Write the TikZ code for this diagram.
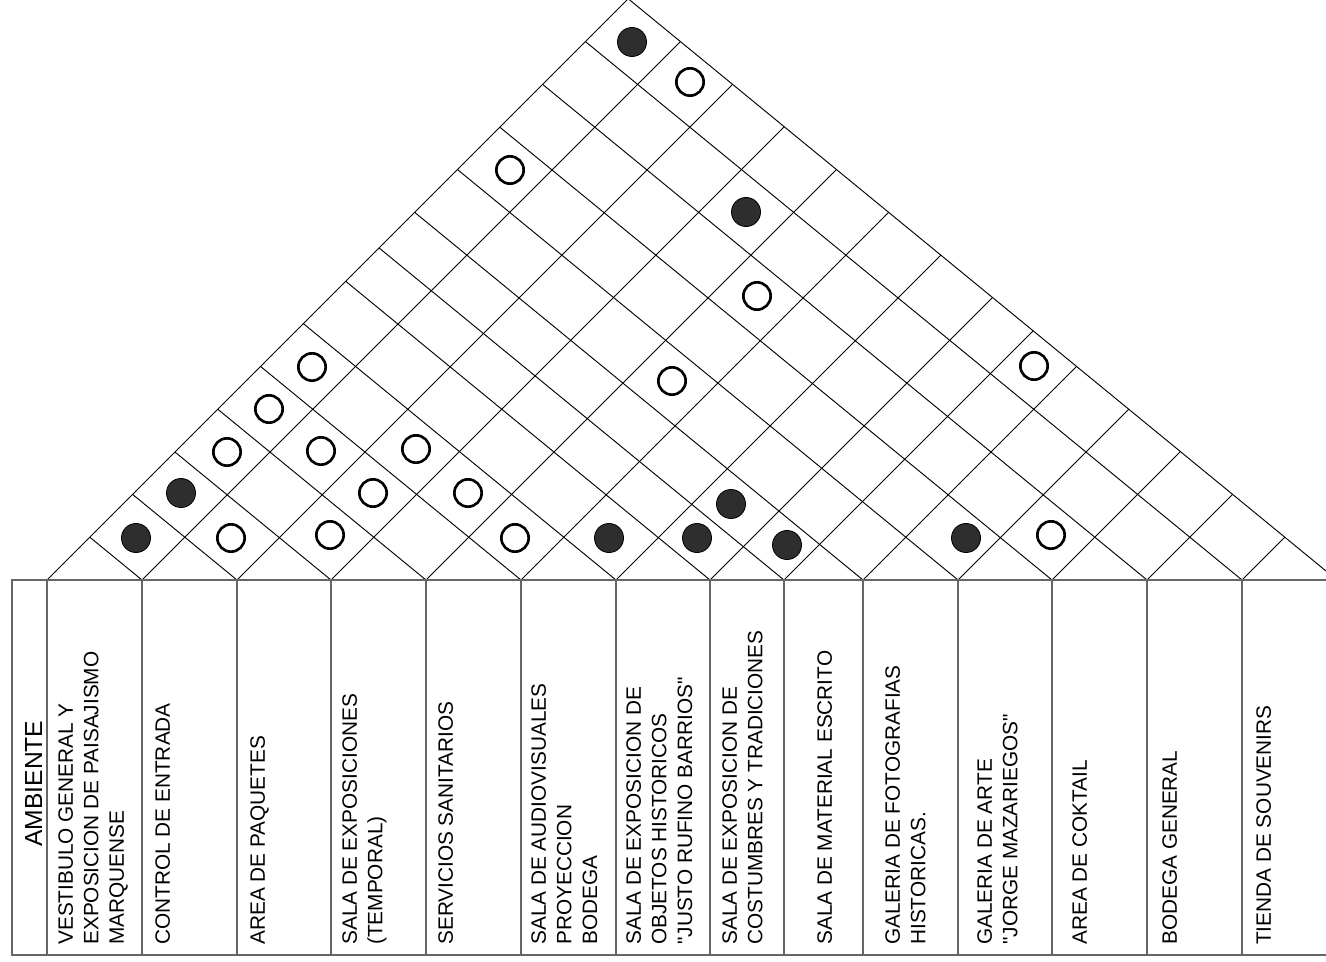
\documentclass[tikz,border=0pt]{standalone}
\usepackage{fontspec}
\setmainfont{Liberation Sans}
% font loaded without the TeX mapping, so that " stays a straight quote
\font\qfont="Liberation Sans" at 15.6pt
\newcommand{\sq}{{\qfont"}}
\begin{document}
\begin{tikzpicture}[x=0.75pt,y=-0.75pt,
  gridline/.style={draw=black,line width=0.7pt},
  tableline/.style={draw=black!60,line width=1pt},
  opendot/.style={circle,draw=black,line width=2pt,fill=white,minimum size=20.5pt,inner sep=0pt},
  filldot/.style={circle,draw=black,line width=0.6pt,fill=black!82,minimum size=21.8pt,inner sep=0pt},
  colabel/.style={rotate=90,anchor=north west,align=left,inner sep=0pt,
    font=\fontsize{15.6}{19.2}\selectfont},
  headlabel/.style={rotate=90,anchor=north west,inner sep=0pt,
    font=\fontsize{18.5}{22}\selectfont}]
\useasboundingbox (0,0) rectangle (1326,962);
\clip (0,0) rectangle (1326,962);
% bottom vertices of the matrix
\foreach \a [count=\i from 0] in {47,142,237,331,426,521,616,710,784,863,958,1052,1147,1242,1337}
  \coordinate (b\i) at (\a,580);
% up-right lines (slope 1) ending on the right edge
\foreach \a [count=\i from 0] in {47,142,237,331,426,521,616,710,784,863,958,1052,1147,1242}{
  \pgfmathsetmacro\xe{(\a+0.82*1337)/1.82}
  \pgfmathsetmacro\ye{580-(\xe-\a)}
  \coordinate (r\i) at (\xe,\ye);
  \draw[gridline] (b\i) -- (r\i);
}
% up-left lines (slope 0.82) ending on the left edge
\foreach \a [count=\i from 1] in {142,237,331,426,521,616,710,784,863,958,1052,1147,1242,1337}{
  \pgfmathsetmacro\xe{(47+0.82*\a)/1.82}
  \pgfmathsetmacro\ye{580-(\xe-47)}
  \coordinate (l\i) at (\xe,\ye);
  \draw[gridline] (b\i) -- (l\i);
}
% table
\coordinate (tl) at (12,580);
\coordinate (tr) at (1326,580);
\coordinate (bl) at (12,955);
\coordinate (br) at (1326,955);
\draw[tableline] (tr) -- (tl) -- (bl) -- (br);
\foreach \a [count=\i] in {47,142,237,331,426,521,616,710,784,863,958,1052,1147,1242}{
  \coordinate (ct\i) at (\a,580);
  \coordinate (cb\i) at (\a,955);
  \draw[tableline] (ct\i) -- (cb\i);
}
% labels
\node[headlabel] (amb) at (25,847) {AMBIENTE};
\node[colabel] (c1) at (58,945) {VESTIBULO GENERAL Y\\EXPOSICION DE PAISAJISMO\\MARQUENSE};
\node[colabel] (c2) at (155,945) {CONTROL DE ENTRADA};
\node[colabel] (c3) at (250,945) {AREA DE PAQUETES};
\node[colabel] (c4) at (342,945) {SALA DE EXPOSICIONES\\(TEMPORAL)};
\node[colabel] (c5) at (438,945) {SERVICIOS SANITARIOS};
\node[colabel] (c6) at (531,945) {SALA DE AUDIOVISUALES\\PROYECCION\\BODEGA};
\node[colabel] (c7) at (626,945) {SALA DE EXPOSICION DE\\OBJETOS HISTORICOS\\\sq JUSTO RUFINO BARRIOS\sq};
\node[colabel] (c8) at (722,945) {SALA DE EXPOSICION DE\\COSTUMBRES Y TRADICIONES};
\node[colabel] (c9) at (817,945) {SALA DE MATERIAL ESCRITO};
\node[colabel] (c10) at (885,945) {GALERIA DE FOTOGRAFIAS\\HISTORICAS.};
\node[colabel] (c11) at (977,945) {GALERIA DE ARTE\\\sq JORGE MAZARIEGOS\sq};
\node[colabel] (c12) at (1072,945) {AREA DE COKTAIL};
\node[colabel] (c13) at (1162,945) {BODEGA GENERAL};
\node[colabel] (c14) at (1256,945) {TIENDA DE SOUVENIRS};
% strong relations
\foreach \x/\y [count=\k] in {136/538,181/493,609/538,697/538,787/545,731/504,966/538,746/212,632/42}
  \node[filldot] (f\k) at (\x,\y) {};
% weak relations
\foreach \x/\y [count=\k] in {231/538,330/535,515/538,1051/535,373/493,468/493,227/452,321/451,416/449,269/409,312/367,510/170,690/82,757/296,672/381,1034/366}
  \node[opendot] (o\k) at (\x,\y) {};
\end{tikzpicture}
\end{document}
